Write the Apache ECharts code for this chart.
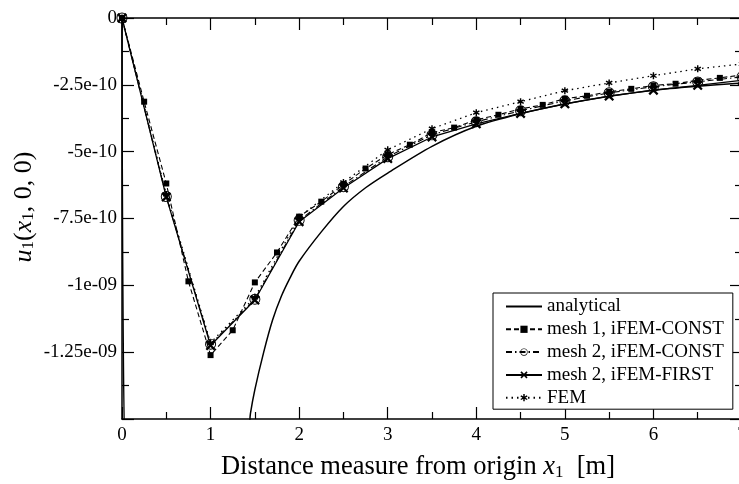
<!DOCTYPE html>
<html>
<head>
<meta charset="utf-8">
<script src="https://cdn.jsdelivr.net/npm/echarts@6/dist/echarts.min.js"></script>
<style>
  html, body { margin: 0; padding: 0; background: #fff; }
  #chart { width: 739px; height: 484px; }
</style>
</head>
<body>
<div id="chart"></div>
<script>
// data
const xHalf = [0, 0.5, 1, 1.5, 2, 2.5, 3, 3.5, 4, 4.5, 5, 5.5, 6, 6.5, 7];
const xQuarter = [0, 0.25, 0.5, 0.75, 1, 1.25, 1.5, 1.75, 2, 2.25, 2.5, 2.75, 3, 3.25, 3.5,
    3.75, 4, 4.25, 4.5, 4.75, 5, 5.25, 5.5, 5.75, 6, 6.25, 6.5, 6.75, 7];

const analyticalX = [0, 0.06, 1.4, 1.45, 1.5, 1.6, 1.7, 1.8, 1.9, 2.0, 2.25, 2.5, 2.75, 3, 3.5, 4, 4.5, 5, 5.5, 6, 6.5, 7];
const analyticalY = [0, -1.8e-9, -1.6e-9, -1.48e-9, -1.39e-9, -1.25e-9, -1.13e-9, -1.04e-9, -9.7e-10, -9.1e-10,
    -8.0e-10, -7.05e-10, -6.35e-10, -5.8e-10, -4.8e-10, -4.05e-10, -3.58e-10, -3.22e-10, -2.93e-10, -2.7e-10, -2.55e-10, -2.43e-10];

const mesh1Const = [0, -3.13e-10, -6.19e-10, -9.85e-10, -1.261e-9, -1.168e-9, -9.89e-10, -8.77e-10, -7.43e-10,
    -6.87e-10, -6.23e-10, -5.63e-10, -5.11e-10, -4.74e-10, -4.29e-10, -4.10e-10, -3.81e-10, -3.62e-10, -3.40e-10,
    -3.25e-10, -3.02e-10, -2.91e-10, -2.76e-10, -2.65e-10, -2.52e-10, -2.46e-10, -2.33e-10, -2.24e-10, -2.13e-10];
const mesh2Const = [0, -6.68e-10, -1.22e-9, -1.052e-9, -7.57e-10, -6.31e-10, -5.19e-10, -4.37e-10, -3.88e-10,
    -3.47e-10, -3.10e-10, -2.80e-10, -2.57e-10, -2.39e-10, -2.20e-10];
const mesh2First = [0, -6.7e-10, -1.225e-9, -1.055e-9, -7.62e-10, -6.36e-10, -5.26e-10, -4.45e-10, -3.96e-10,
    -3.57e-10, -3.21e-10, -2.92e-10, -2.70e-10, -2.52e-10, -2.33e-10];
const femValues = [0, -6.6e-10, -1.215e-9, -1.045e-9, -7.45e-10, -6.15e-10, -4.93e-10, -4.14e-10, -3.54e-10,
    -3.13e-10, -2.72e-10, -2.43e-10, -2.16e-10, -1.90e-10, -1.72e-10];

const seriesNames = ['analytical', 'mesh 1, iFEM-CONST', 'mesh 2, iFEM-CONST', 'mesh 2, iFEM-FIRST', 'FEM'];

const yTickValues = [0, -2.5e-10, -5e-10, -7.5e-10, -1e-9, -1.25e-9, -1.5e-9];
const yTickLabels = ['0', '-2.5e-10', '-5e-10', '-7.5e-10', '-1e-09', '-1.25e-09', ''];
const xTickLabels = ['0', '1', '2', '3', '4', '5', '6', '7'];

function pairs(xs, ys) {
    return xs.map((x, i) => [x, ys[i]]);
}

// marker shapes
const ringDot = 'path://M0,-10A10,10 0 1,1 0,10A10,10 0 1,1 0,-10Z M0,-8.3A8.3,8.3 0 1,0 0,8.3A8.3,8.3 0 1,0 0,-8.3Z M0,-2.2A2.2,2.2 0 1,1 0,2.2A2.2,2.2 0 1,1 0,-2.2Z';
const cross = 'path://M1.6,0L5,3.4L8.4,0L10,1.6L6.6,5L10,8.4L8.4,10L5,6.6L1.6,10L0,8.4L3.4,5L0,1.6Z';
const star = 'path://M-0.2,-1L0.2,-1L0.2,1L-0.2,1Z M0.766,-0.673L0.966,-0.327L-0.766,0.673L-0.966,0.327Z M0.966,0.327L0.766,0.673L-0.966,-0.327L-0.766,-0.673Z';

const serif = 'Liberation Serif';
const black = '#000';

function axisBase(extra) {
    return Object.assign({
        type: 'value',
        axisLine: { show: true, onZero: false, lineStyle: { color: black, width: 1.5 } },
        axisTick: { show: true, inside: true, length: 12, lineStyle: { color: black, width: 1.2 } },
        minorTick: { show: true, splitNumber: 2, length: 7, lineStyle: { color: black, width: 1.2 } },
        splitLine: { show: false },
        axisLabel: { show: false }
    }, extra);
}

const chart = echarts.init(document.getElementById('chart'), null, { renderer: 'canvas' });

chart.setOption({
    animation: false,
    backgroundColor: '#fff',
    grid: { left: 122, top: 18, right: -3, bottom: 65, containLabel: false, outerBoundsMode: 'none' },
    xAxis: [
        axisBase({
            position: 'bottom', min: 0, max: 7, interval: 1,
            axisLabel: {
                show: true, margin: 7, color: black, fontFamily: serif, fontSize: 19,
                showMinLabel: true, showMaxLabel: true, hideOverlap: false,
                formatter: v => xTickLabels[Math.round(v)]
            }
        }),
        axisBase({ position: 'top', min: 0, max: 7, interval: 1 })
    ],
    yAxis: [
        axisBase({
            position: 'left', min: -1.5e-9, max: 0, interval: 2.5e-10,
            axisLabel: {
                show: true, margin: 5, color: black, fontFamily: serif, fontSize: 19,
                formatter: v => {
                    const i = yTickValues.findIndex(t => Math.abs(t - v) < 1e-13);
                    return i >= 0 ? yTickLabels[i] : '';
                }
            }
        }),
        axisBase({ position: 'right', min: -1.5e-9, max: 0, interval: 2.5e-10 })
    ],
    legend: {
        left: 493, top: 293,
        orient: 'vertical',
        itemWidth: 36, itemHeight: 9, itemGap: 3.8,
        padding: [4, 9, 2, 12],
        borderColor: black, borderWidth: 1, borderRadius: 0,
        backgroundColor: '#fff',
        textStyle: { color: black, fontFamily: serif, fontSize: 19 },
        data: [
            { name: seriesNames[0], itemStyle: { opacity: 0 } },
            seriesNames[1], seriesNames[2], seriesNames[3], seriesNames[4]
        ]
    },
    graphic: [
        {
            type: 'text', x: 22, y: 207, rotation: Math.PI / 2,
            style: {
                text: '{i|u}{s|1}{n|(}{i|x}{s|1}{n|, 0, 0)}',
                align: 'center', verticalAlign: 'middle',
                rich: {
                    i: { fontFamily: serif, fontStyle: 'italic', fontSize: 26, verticalAlign: 'bottom', lineHeight: 30 },
                    n: { fontFamily: serif, fontSize: 26, verticalAlign: 'bottom', lineHeight: 30 },
                    s: { fontFamily: serif, fontSize: 17, verticalAlign: 'bottom', lineHeight: 17 }
                }
            }
        },
        {
            type: 'text', x: 418, y: 466,
            style: {
                text: '{n|Distance measure from origin }{i|x}{s|1}{n|  [m]}',
                align: 'center', verticalAlign: 'middle',
                rich: {
                    i: { fontFamily: serif, fontStyle: 'italic', fontSize: 26.5, verticalAlign: 'bottom', lineHeight: 30 },
                    n: { fontFamily: serif, fontSize: 26.5, verticalAlign: 'bottom', lineHeight: 30 },
                    s: { fontFamily: serif, fontSize: 17, verticalAlign: 'bottom', lineHeight: 17 }
                }
            }
        }
    ],
    series: [
        {
            name: seriesNames[0], type: 'line', data: pairs(analyticalX, analyticalY),
            showSymbol: false, symbol: 'none', smooth: 0.3, clip: true,
            lineStyle: { color: black, width: 1.5 },
            itemStyle: { color: black }
        },
        {
            name: seriesNames[1], type: 'line', data: pairs(xQuarter, mesh1Const),
            symbol: 'rect', symbolSize: 6, clip: true,
            lineStyle: { color: black, width: 1.1, type: [5, 3] },
            itemStyle: { color: black }
        },
        {
            name: seriesNames[2], type: 'line', data: pairs(xHalf, mesh2Const),
            symbol: ringDot, symbolSize: 11, clip: true,
            lineStyle: { color: black, width: 1.1, type: [6, 3, 1.5, 3] },
            itemStyle: { color: black }
        },
        {
            name: seriesNames[3], type: 'line', data: pairs(xHalf, mesh2First),
            symbol: cross, symbolSize: 10, clip: true,
            lineStyle: { color: black, width: 1.3 },
            itemStyle: { color: black }
        },
        {
            name: seriesNames[4], type: 'line', data: pairs(xHalf, femValues),
            symbol: star, symbolSize: 7, clip: true,
            lineStyle: { color: black, width: 1.3, type: [1.5, 4] },
            itemStyle: { color: black }
        }
    ]
});
</script>
</body>
</html>
